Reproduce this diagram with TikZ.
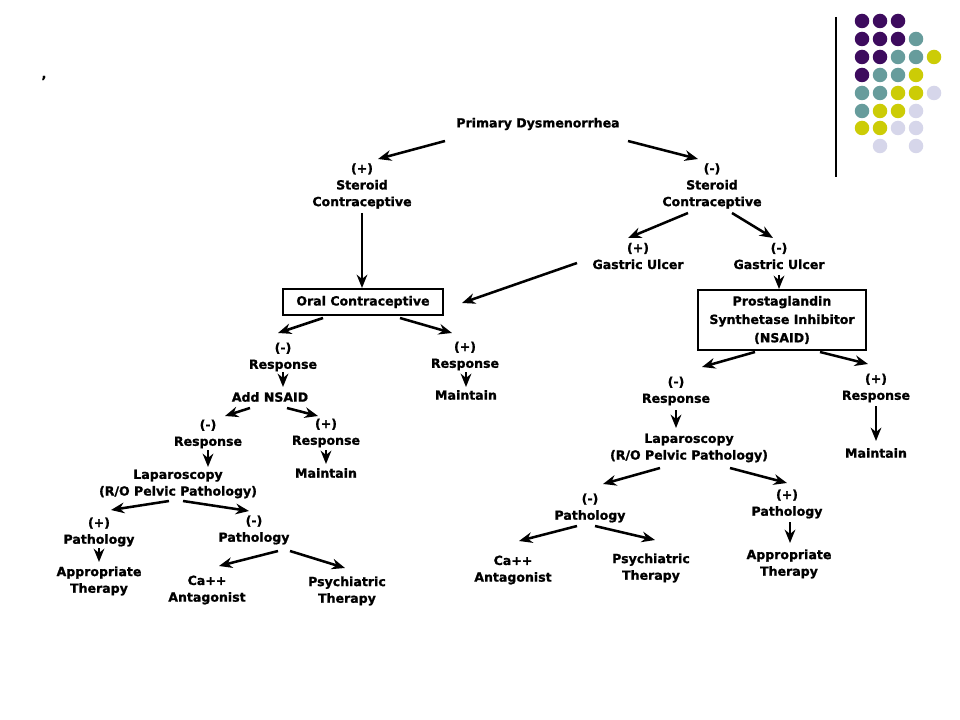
\documentclass[tikz,border=0pt]{standalone}
\usepackage{fontspec}
\setmainfont{DejaVu Sans}[BoldFeatures={FakeBold=1.2}]
\usetikzlibrary{calc,arrows.meta}
\definecolor{dpurple}{HTML}{3D0B5E}
\definecolor{dteal}{HTML}{679C9C}
\definecolor{dyellow}{HTML}{CCCC06}
\definecolor{dlav}{HTML}{D6D6EA}
\begin{document}
\begin{tikzpicture}[x=0.75pt,y=-0.75pt,
  lbl/.style={font=\bfseries\fontsize{9.4}{12.5}\selectfont,align=center,inner sep=0pt},
  boxed/.style={lbl,draw,line width=1.5pt},
  arr/.style={-{Stealth[length=10pt,width=8pt]},line width=1.9pt},
  dot/.style={circle,inner sep=0pt,minimum size=14.5*0.75pt}]
\useasboundingbox (0,0) rectangle (960,720);
\fill[white] (0,0) rectangle (960,720);
% decoration
\draw[line width=0.8pt] (836,17) -- (836,177);
\foreach \c/\x/\y in {dpurple/862/21,dpurple/880/21,dpurple/898/21,
  dpurple/862/39,dpurple/880/39,dpurple/898/39,dteal/916/39,
  dpurple/862/57,dpurple/880/57,dteal/898/57,dteal/916/57,dyellow/934/57,
  dpurple/862/75,dteal/880/75,dteal/898/75,dyellow/916/75,
  dteal/862/93,dteal/880/93,dyellow/898/93,dyellow/916/93,dlav/934/93,
  dteal/862/111,dyellow/880/111,dyellow/898/111,dlav/916/111,
  dyellow/862/128,dyellow/880/128,dlav/898/128,dlav/916/128,
  dlav/880/146,dlav/916/146}
  \node[dot,fill=\c] at (\x,\y) {};
\node[lbl] (comma) at (44,78) {,};
% nodes
\node[lbl] (pd) at (538,124) {Primary Dysmenorrhea};
\node[lbl] (lsc) at (362,186) {(+)\\Steroid\\Contraceptive};
\node[lbl] (rsc) at (712,186) {(-)\\Steroid\\Contraceptive};
\node[lbl] (pgu) at (638,256) {(+)\\Gastric Ulcer};
\node[lbl] (ngu) at (779,256) {(-)\\Gastric Ulcer};
\node[boxed,minimum width=160*0.75pt,minimum height=26*0.75pt] (oc) at (363,302) {Oral Contraceptive};
\node[boxed,minimum width=168*0.75pt,minimum height=60*0.75pt,font=\bfseries\fontsize{9.4}{13.8}\selectfont] (nsaid) at (782,320) {Prostaglandin\\Synthetase Inhibitor\\(NSAID)};
\node[lbl] (lnr) at (283,357) {(-)\\Response};
\node[lbl] (lpr) at (465,356) {(+)\\Response};
\node[lbl] (lmaint) at (466,395) {Maintain};
\node[lbl] (addn) at (270,397) {Add NSAID};
\node[lbl] (lnr2) at (208,434) {(-)\\Response};
\node[lbl] (lpr2) at (326,433) {(+)\\Response};
\node[lbl] (lmaint2) at (326,473) {Maintain};
\node[lbl] (llap) at (178,484) {Laparoscopy\\(R/O Pelvic Pathology)};
\node[lbl] (lpp) at (99,532) {(+)\\Pathology};
\node[lbl] (lat) at (99,581) {Appropriate\\Therapy};
\node[lbl] (lnp) at (254,530) {(-)\\Pathology};
\node[lbl] (lca) at (207,590) {Ca++\\Antagonist};
\node[lbl] (lpsy) at (347,591) {Psychiatric\\Therapy};
\node[lbl] (rnr) at (676,391) {(-)\\Response};
\node[lbl] (rlap) at (689,448) {Laparoscopy\\(R/O Pelvic Pathology)};
\node[lbl] (rpr) at (876,388) {(+)\\Response};
\node[lbl] (rmaint) at (876,453) {Maintain};
\node[lbl] (rnp) at (590,508) {(-)\\Pathology};
\node[lbl] (rpp) at (787,504) {(+)\\Pathology};
\node[lbl] (rat) at (789,564) {Appropriate\\Therapy};
\node[lbl] (rca) at (513,570) {Ca++\\Antagonist};
\node[lbl] (rpsy) at (651,568) {Psychiatric\\Therapy};
% arrows
\draw[arr] ($(pd)+(-93,17)$) -- ($(lsc)+(16,-27)$);
\draw[arr] ($(pd)+(90,17)$) -- ($(rsc)+(-14,-27)$);
\draw[arr] ($(lsc)+(0,27)$) -- ($(oc.north)+(-1,0)$);
\draw[arr] ($(rsc)+(-24,27)$) -- ($(pgu)+(-10,-18)$);
\draw[arr] ($(rsc)+(20,27)$) -- ($(ngu)+(-6,-18)$);
\draw[arr] ($(pgu)+(-61,7)$) -- ($(oc.east)+(18,1)$);
\draw[arr] ($(ngu)+(0,19)$) -- ($(nsaid.north)+(-3,0)$);
\draw[arr] ($(oc)+(-40,16)$) -- ($(lnr)+(-5,-24)$);
\draw[arr] ($(oc)+(37,16)$) -- ($(lpr)+(-13,-23)$);
\draw[arr] ($(lnr)+(0,15)$) -- ($(addn)+(13,-10)$);
\draw[arr] ($(lpr)+(1,16)$) -- ($(lmaint)+(0,-8)$);
\draw[arr] ($(addn)+(-20,11)$) -- ($(lnr2)+(17,-18)$);
\draw[arr] ($(addn)+(17,11)$) -- ($(lpr2)+(-8,-17)$);
\draw[arr] ($(lnr2)+(0,16)$) -- ($(llap)+(30,-17)$);
\draw[arr] ($(lpr2)+(0,17)$) -- ($(lmaint2)+(0,-9)$);
\draw[arr] ($(llap)+(-9,17)$) -- ($(lpp)+(12,-22)$);
\draw[arr] ($(llap)+(5,17)$) -- ($(lnp)+(-5,-19)$);
\draw[arr] ($(lpp)+(0,16)$) -- ($(lat)+(0,-19)$);
\draw[arr] ($(lnp)+(24,21)$) -- ($(lca)+(12,-24)$);
\draw[arr] ($(lnp)+(36,21)$) -- ($(lpsy)+(-2,-23)$);
\draw[arr] ($(nsaid)+(-27,32)$) -- ($(rnr)+(26,-24)$);
\draw[arr] ($(nsaid)+(38,32)$) -- ($(rpr)+(-8,-24)$);
\draw[arr] ($(rnr)+(0,19)$) -- ($(rlap)+(-13,-20)$);
\draw[arr] ($(rpr)+(0,18)$) -- ($(rmaint)+(0,-12)$);
\draw[arr] ($(rlap)+(-29,20)$) -- ($(rnp)+(13,-24)$);
\draw[arr] ($(rlap)+(41,20)$) -- ($(rpp)+(0,-21)$);
\draw[arr] ($(rpp)+(3,18)$) -- ($(rat)+(1,-21)$);
\draw[arr] ($(rnp)+(-13,18)$) -- ($(rca)+(6,-29)$);
\draw[arr] ($(rnp)+(5,18)$) -- ($(rpsy)+(4,-28)$);
\end{tikzpicture}
\end{document}
